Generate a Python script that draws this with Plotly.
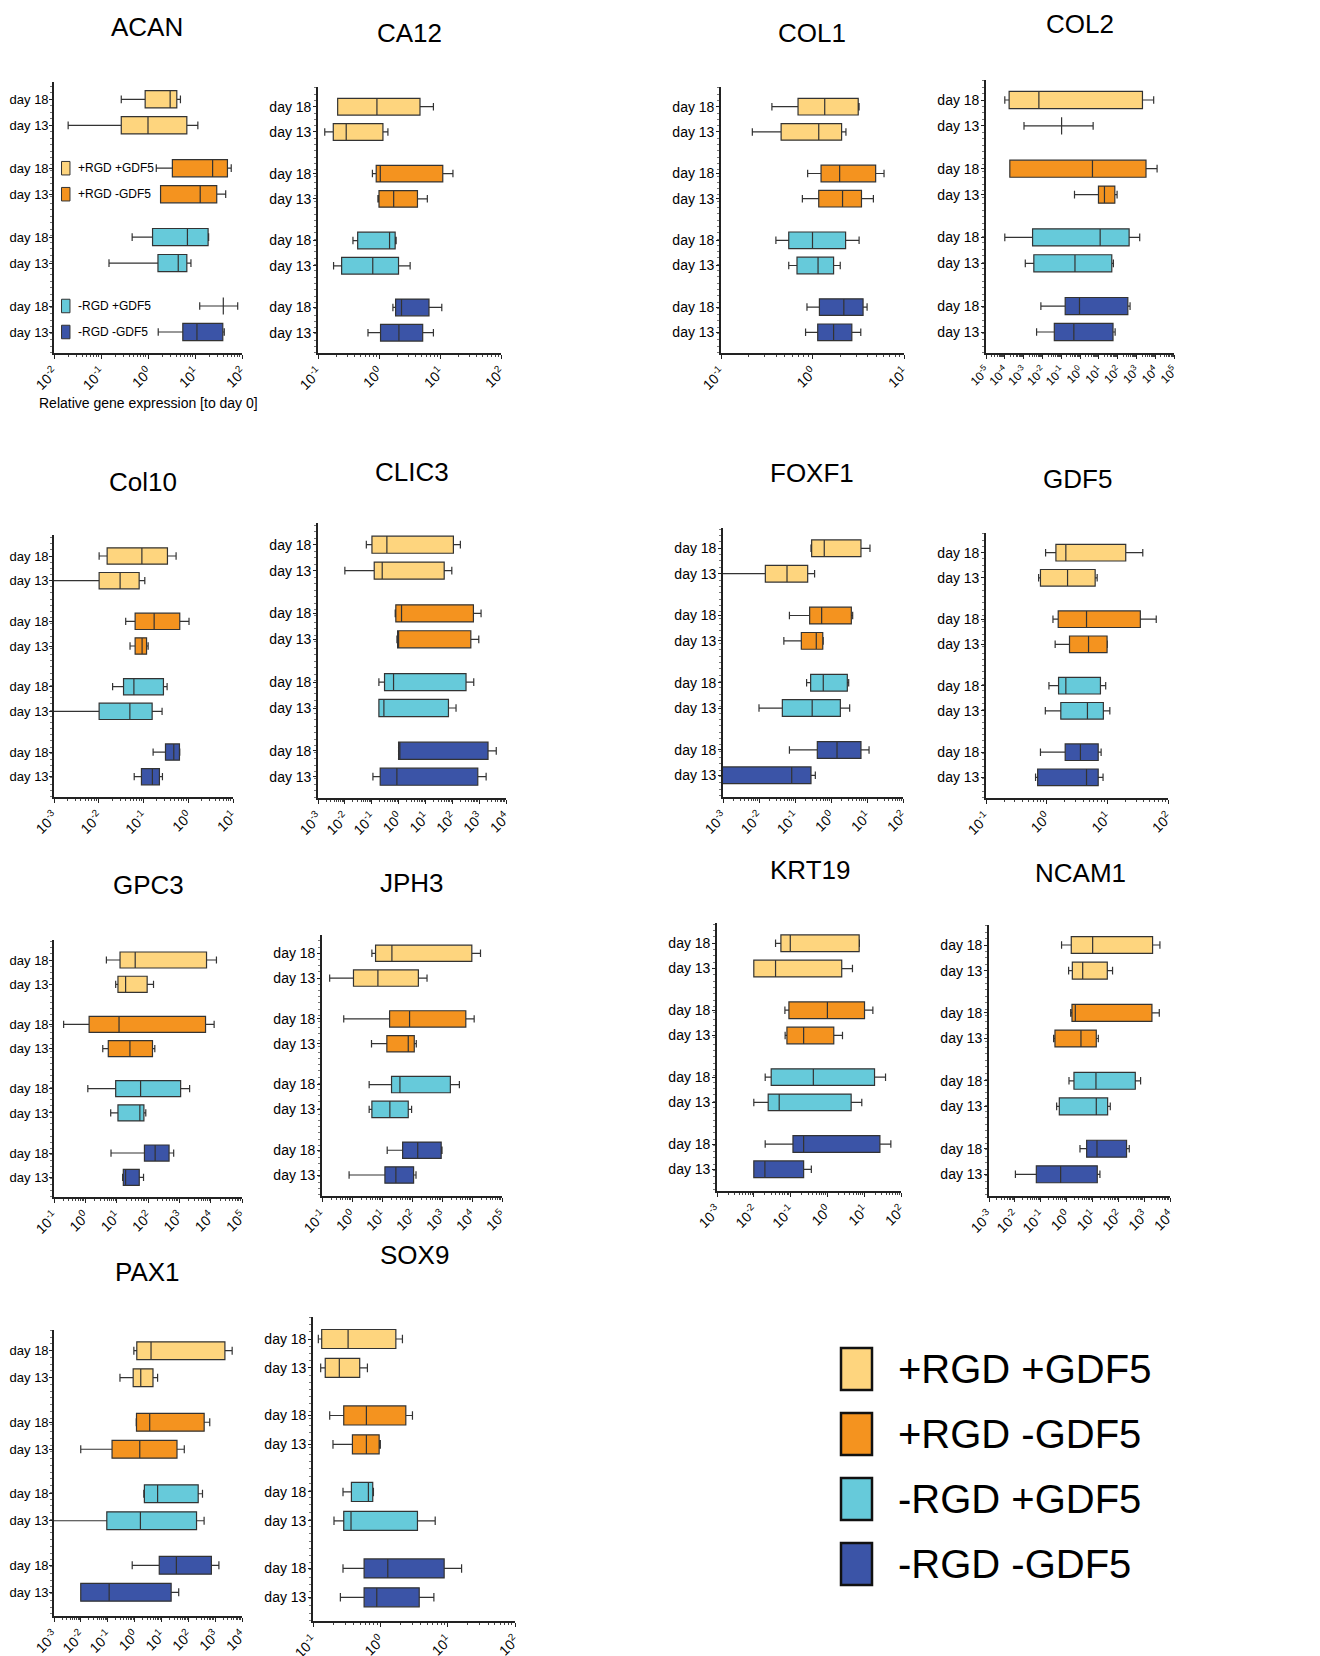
import math
import plotly.graph_objects as go

W, H = 1320, 1656
OFF = 8  # page body margin of the html page

# ---------------- data ----------------
GENES = ["ACAN", "CA12", "COL1", "COL2", "Col10", "CLIC3", "FOXF1", "GDF5",
         "GPC3", "JPH3", "KRT19", "NCAM1", "PAX1", "SOX9"]
GROUPS = ["+RGD +GDF5", "+RGD -GDF5", "-RGD +GDF5", "-RGD -GDF5"]
DAYS = ["day 18", "day 13"]
# rows: [grp1 d18, grp1 d13, grp2 d18, grp2 d13, grp3 d18, grp3 d13, grp4 d18, grp4 d13]
# columns: (min, q1, median, q3, max)
ACAN = [(0.27, 0.87, 2.96, 4.1, 4.9), (0.02, 0.27, 1.0, 6.7, 11.5),
        (1.5, 3.3, 23.7, 49, 59), (1.85, 1.85, 12.9, 29, 45),
        (0.46, 1.25, 6.9, 19, 19.5), (0.148, 1.63, 4.4, 6.7, 8.2),
        (12.6, 40, 40, 40, 81), (1.65, 5.5, 11, 39, 42)]
CA12 = [(0.21, 0.21, 0.925, 4.7, 7.8), (0.129, 0.178, 0.29, 1.16, 1.4),
        (0.78, 0.9, 1.05, 11.1, 16.3), (0.96, 1.0, 1.74, 4.27, 6.2),
        (0.374, 0.447, 1.49, 1.84, 1.91), (0.18, 0.244, 0.79, 2.09, 3.24),
        (1.69, 1.87, 2.34, 6.6, 10.7), (0.66, 1.06, 2.12, 5.2, 7.8)]
COL1 = [(0.36, 0.695, 1.36, 3.16, 3.23), (0.22, 0.454, 1.17, 2.08, 2.32),
        (0.885, 1.24, 1.98, 4.9, 6.05), (0.775, 1.17, 2.13, 3.43, 4.63),
        (0.398, 0.55, 1.0, 2.3, 3.23), (0.55, 0.677, 1.15, 1.70, 2.01),
        (0.87, 1.19, 2.2, 3.57, 3.95), (0.84, 1.14, 1.70, 2.69, 3.37)]
COL2 = [(1.0e-4, 1.7e-4, 0.0065, 2100, 8300), (0.00105, 0.105, 0.105, 0.105, 5.0),
        (1.85e-4, 1.85e-4, 4.6, 3240, 12600), (0.51, 9.6, 20, 71, 94),
        (1.0e-4, 0.003, 11.8, 410, 1500), (0.00123, 0.0035, 0.54, 49, 60),
        (0.0083, 0.163, 0.94, 350, 460), (0.0049, 0.043, 0.47, 57, 74)]
Col10 = [(0.0102, 0.0154, 0.092, 0.343, 0.535), (0.0005, 0.0102, 0.030, 0.080, 0.107),
         (0.040, 0.065, 0.173, 0.646, 1.04), (0.050, 0.065, 0.093, 0.117, 0.127),
         (0.0204, 0.0358, 0.061, 0.279, 0.337), (0.0005, 0.0102, 0.0496, 0.156, 0.26),
         (0.164, 0.31, 0.475, 0.636, 0.646), (0.062, 0.090, 0.158, 0.227, 0.265)]
CLIC3 = [(0.063, 0.102, 0.367, 110, 200), (0.01, 0.124, 0.246, 50, 96),
         (0.75, 0.79, 1.29, 612, 1180), (0.87, 0.92, 1.0, 490, 970),
         (0.185, 0.30, 0.65, 325, 630), (0.185, 0.185, 0.284, 72, 138),
         (1.0, 1.0, 1.12, 2140, 4340), (0.111, 0.207, 0.865, 890, 1820)]
FOXF1 = [(0.278, 0.29, 0.65, 6.8, 12.1), (0.0005, 0.015, 0.060, 0.225, 0.35),
         (0.070, 0.255, 0.55, 3.67, 4.0), (0.049, 0.15, 0.39, 0.59, 0.61),
         (0.21, 0.272, 0.61, 2.84, 3.1), (0.01, 0.0445, 0.30, 1.82, 3.3),
         (0.070, 0.417, 1.47, 6.8, 11.4), (0.0005, 0.0008, 0.081, 0.278, 0.367)]
GDF5 = [(0.96, 1.42, 2.07, 20.1, 38.4), (0.736, 0.79, 2.21, 6.3, 6.8),
        (1.27, 1.55, 4.54, 35, 64), (1.38, 2.38, 4.9, 9.9, 10.0),
        (1.09, 1.57, 2.07, 7.7, 9.4), (0.95, 1.71, 4.7, 8.6, 11.0),
        (0.79, 2.02, 3.6, 7.07, 7.9), (0.656, 0.71, 4.54, 7.07, 8.5)]
GPC3 = [(4.7, 12.8, 39, 7380, 15300), (9.3, 11.0, 19.3, 94, 150),
        (0.203, 1.32, 11.9, 6860, 12900), (3.6, 5.4, 26.5, 139, 165),
        (1.2, 9.3, 58, 1100, 2130), (6.45, 11.0, 55, 74, 85),
        (6.6, 77, 169, 470, 660), (15.5, 16.3, 19.3, 52.6, 72)]
JPH3 = [(4.6, 6.1, 21.4, 9860, 19200), (0.18, 1.12, 7.3, 163, 317),
        (0.53, 17.9, 83, 6220, 11800), (4.47, 14.5, 75, 119, 139),
        (3.73, 20.8, 39.6, 1900, 3800), (3.73, 4.6, 18.3, 75, 97),
        (14.9, 48.7, 155, 940, 1000), (0.8, 12.5, 29, 113, 136)]
KRT19 = [(0.039, 0.0545, 0.098, 7.3, 7.4), (0.01, 0.01, 0.039, 2.45, 4.8),
         (0.070, 0.090, 1.0, 10.2, 17.2), (0.071, 0.0795, 0.226, 1.49, 2.57),
         (0.0204, 0.0297, 0.415, 19.1, 38), (0.01, 0.0246, 0.049, 4.42, 8.6),
         (0.0204, 0.116, 0.226, 26.7, 53), (0.01, 0.01, 0.02, 0.226, 0.366)]
NCAM1 = [(0.64, 1.52, 10.2, 2120, 4080), (1.2, 1.67, 4.2, 37.6, 60),
         (1.44, 1.62, 2.18, 2000, 3850), (0.316, 0.356, 3.6, 14.1, 16.9),
         (1.24, 1.93, 13.7, 454, 730), (0.413, 0.524, 14.1, 38.7, 49),
         (3.3, 5.97, 15, 209, 266), (0.0105, 0.0677, 0.59, 15.4, 19.5)]
PAX1 = [(0.94, 1.21, 4.1, 2310, 4300), (0.286, 0.887, 1.70, 4.85, 7.2),
        (1.15, 1.18, 3.66, 390, 630), (0.0099, 0.145, 1.56, 38, 71),
        (2.2, 2.32, 7.2, 234, 338), (0.0005, 0.0925, 1.65, 203, 388),
        (0.817, 8.3, 36, 724, 1380), (0.0099, 0.0099, 0.113, 23, 44)]
SOX9 = [(0.12, 0.1346, 0.332, 1.70, 2.13), (0.130, 0.152, 0.246, 0.494, 0.643),
        (0.177, 0.286, 0.621, 2.39, 3.0), (0.198, 0.385, 0.621, 0.96, 1.0),
        (0.279, 0.372, 0.665, 0.771, 0.79), (0.205, 0.286, 0.367, 3.56, 6.53),
        (0.279, 0.574, 1.29, 8.87, 16.1), (0.255, 0.574, 0.885, 3.78, 6.24)]
DATA = [ACAN, CA12, COL1, COL2, Col10, CLIC3, FOXF1, GDF5,
        GPC3, JPH3, KRT19, NCAM1, PAX1, SOX9]
# log10 axis ranges (decades)
XRANGE = [(-2, 2), (-1, 2), (-1, 1), (-5, 5), (-3, 1), (-3, 4), (-3, 2), (-1, 2),
          (-1, 5), (-1, 5), (-3, 2), (-3, 4), (-3, 4), (-1, 2)]
REFLINE = [True, True, True, True, True, True, False, False,
           False, True, True, True, True, True]

# ---------------- styling / layout ----------------
FILL = ["#FED57E", "#F4931F", "#66CADA", "#3B54A7"]
EDGE = "#333333"
FONT = "Liberation Sans, Arial, Helvetica, sans-serif"
# pixel boxes: x0, x1, ytop, ybottom, first row centre, last row centre, title cx, title cy
PANEL_PX = [
    (54, 242, 82, 353, 99.3, 332, 147, 27),
    (318, 501, 87, 353, 106.7, 332.7, 409, 33),
    (721, 904, 87, 353, 106.7, 332.3, 812, 33),
    (986, 1174, 80, 353, 100, 332, 1080, 24),
    (54, 233, 535, 797, 556, 776.7, 143, 482),
    (318, 506, 523, 798, 544.7, 776.7, 412, 472),
    (723, 903, 528, 797, 548.3, 775.3, 812, 473),
    (986, 1168, 533, 798, 552.7, 777.3, 1077, 479),
    (54, 242, 940, 1197, 960, 1177.3, 148, 885),
    (322, 502, 935, 1196, 953.3, 1175, 412, 883),
    (717, 901, 923, 1191, 943.3, 1169.3, 810, 870),
    (989, 1170, 925, 1196, 945, 1174.3, 1080, 873),
    (54, 242, 1330, 1616, 1350.7, 1592.3, 147, 1272),
    (313, 515, 1317, 1621, 1339, 1597.3, 414, 1255),
]
FIRST_COL = {1, 5, 9, 13}
GROUP_STEP = 2.65  # group period in units of the day-to-day spacing
LAST_ROW = 3 * GROUP_STEP + 1


def px_x(p):
    return (p - OFF) / W


def px_y(p):
    return 1 - (p - OFF) / H


def row_pos(g, d):
    return g * GROUP_STEP + d


fig = go.Figure()
shapes, annotations = [], []
layout = dict(template="none", width=W, height=H, margin=dict(l=0, r=0, t=0, b=0, autoexpand=False),
              paper_bgcolor="white", plot_bgcolor="white",
              font=dict(family=FONT, color="black"), showlegend=False)

for k, (gene, rows, (lo, hi), ref, px) in enumerate(zip(GENES, DATA, XRANGE, REFLINE, PANEL_PX), start=1):
    x0, x1, yt, yb, r0, rl, tcx, tcy = px
    u = (rl - r0) / LAST_ROW
    ytop_u = (yt - r0) / u
    ybot_u = (yb - r0) / u
    xa = "x" if k == 1 else f"x{k}"
    ya = "y" if k == 1 else f"y{k}"
    xkey = "xaxis" if k == 1 else f"xaxis{k}"
    ykey = "yaxis" if k == 1 else f"yaxis{k}"
    decades = list(range(lo, hi + 1))
    tick_size = 14 if (hi - lo) <= 7 else 12
    layout[xkey] = dict(
        type="log", range=[lo, hi], domain=[px_x(x0), px_x(x1)], anchor=ya, automargin=False,
        tickmode="array", tickvals=[10.0 ** e for e in decades],
        ticktext=[f"10<sup>{e}</sup>" for e in decades],
        tickangle=-45, ticks="outside", ticklen=4, tickwidth=1.2, tickcolor="#222",
        minor=dict(tickmode="array",
                   tickvals=[m * 10.0 ** e for e in range(lo, hi) for m in range(2, 10)],
                   ticks="outside", ticklen=2, tickwidth=0.8, tickcolor="#444", showgrid=False),
        tickfont=dict(size=tick_size, family=FONT), showline=True, linecolor="#222", linewidth=1.6,
        showgrid=False, zeroline=False, fixedrange=True)
    tick_pos = [row_pos(g, d) for g in range(4) for d in range(2)]
    first = k in FIRST_COL
    layout[ykey] = dict(
        range=[ybot_u, ytop_u], domain=[px_y(yb), px_y(yt)], anchor=xa, automargin=False,
        tickmode="array", tickvals=tick_pos, ticktext=[DAYS[d] for g in range(4) for d in range(2)],
        ticks="outside", ticklen=3, tickwidth=1.2, tickcolor="#222",
        ticklabelstandoff=-2 if first else -1,
        minor=dict(ticks="outside", ticklen=2, dtick=0.25, tickwidth=0.7, tickcolor="#777"),
        tickfont=dict(size=13 if first else 14, family=FONT), showline=True, linecolor="#222",
        linewidth=1.6, showgrid=False, zeroline=False, fixedrange=True)

    for g in range(4):
        pair = rows[2 * g: 2 * g + 2]
        fig.add_trace(go.Box(
            orientation="h", y=[row_pos(g, 0), row_pos(g, 1)],
            lowerfence=[r[0] for r in pair], q1=[r[1] for r in pair],
            median=[r[2] for r in pair], q3=[r[3] for r in pair],
            upperfence=[r[4] for r in pair],
            xaxis=xa, yaxis=ya, fillcolor=FILL[g],
            line=dict(color=EDGE, width=1.2), width=0.66, whiskerwidth=0.45,
            boxpoints=False, name=GROUPS[g], showlegend=False))

    if ref:
        shapes.append(dict(type="line", xref=xa, yref=f"{ya} domain", x0=0, x1=0, y0=0, y1=1,
                           line=dict(color="black", width=1.3, dash="dashdot"), layer="below"))
    annotations.append(dict(text=gene, x=px_x(tcx), y=px_y(tcy), xref="paper", yref="paper",
                            xanchor="center", yanchor="middle", showarrow=False,
                            font=dict(size=26, family=FONT, color="black")))

# axis caption of the first panel
annotations.append(dict(text="Relative gene expression [to day 0]", x=px_x(148), y=px_y(403),
                        xref="paper", yref="paper", xanchor="center", yanchor="middle",
                        showarrow=False, font=dict(size=14, family=FONT)))

# small in-panel legend of the ACAN panel
for g, (gi, d) in enumerate([(1, 0), (1, 1), (3, 0), (3, 1)]):
    yc = row_pos(gi, d)
    shapes.append(dict(type="rect", xref="x domain", yref="y", x0=0.04, x1=0.085,
                       y0=yc - 0.26, y1=yc + 0.26, fillcolor=FILL[g],
                       line=dict(color=EDGE, width=1)))
    annotations.append(dict(text=GROUPS[g], xref="x domain", yref="y", x=0.115, y=yc,
                            xanchor="left", yanchor="middle", showarrow=False,
                            font=dict(size=12, family=FONT)))

# big legend, bottom right
LEG_ROWS = [1369, 1434, 1499, 1564]
for g, yc in enumerate(LEG_ROWS):
    shapes.append(dict(type="rect", xref="paper", yref="paper", x0=px_x(841), x1=px_x(872),
                       y0=px_y(yc + 21), y1=px_y(yc - 21), fillcolor=FILL[g],
                       line=dict(color="#111", width=2.5)))
    annotations.append(dict(text=GROUPS[g], xref="paper", yref="paper", x=px_x(896), y=px_y(yc),
                            xanchor="left", yanchor="middle", showarrow=False,
                            font=dict(size=40, family=FONT)))

layout["shapes"] = shapes
layout["annotations"] = annotations
fig.update_layout(**layout)
fig.write_html("out.html")
